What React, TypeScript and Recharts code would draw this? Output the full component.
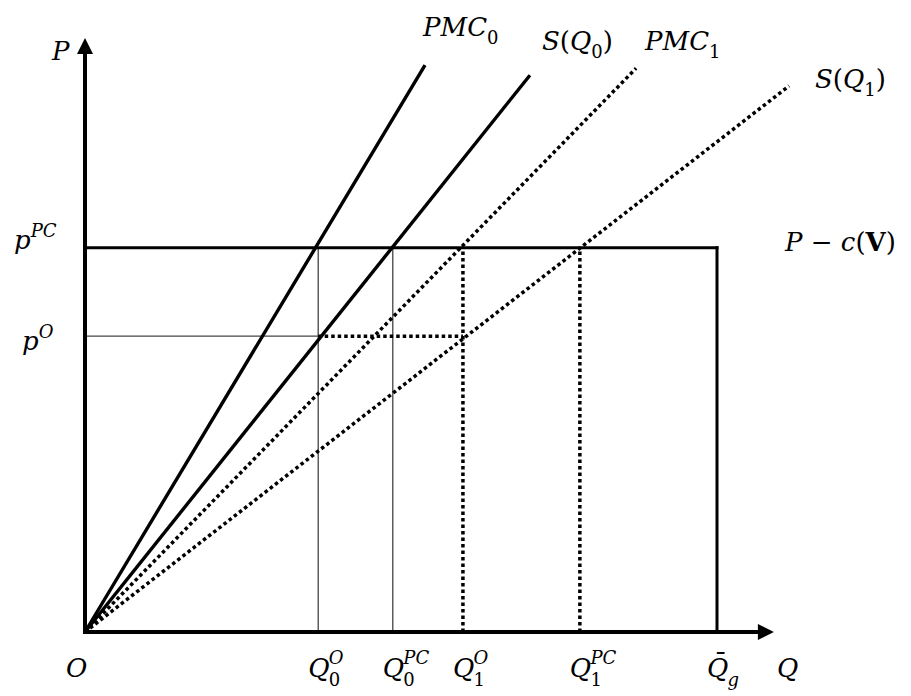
import { ComposedChart, Line, XAxis, YAxis, ReferenceLine, ReferenceDot } from "recharts";

// quantities on the horizontal axis
const quantityTicks = [0, 36.9, 48.7, 59.8, 78.3, 100];
// prices on the vertical axis
const priceTicks = [46.8, 60.8];

// marginal cost / supply curves, each drawn from the origin
const pmc0 = [{ q: 0, p: 0 }, { q: 53.8, p: 89.7 }];
const supply0 = [{ q: 0, p: 0 }, { q: 70.4, p: 88.1 }];
const pmc1 = [{ q: 0, p: 0 }, { q: 87.2, p: 89.2 }];
const supply1 = [{ q: 0, p: 0 }, { q: 111.4, p: 86.4 }];

// where the axis arrows stop
const axisEnd = { q: 109, p: 94 };

// tick labels: main letter, subscript, superscript
const quantityLabels = [
  { base: "O", sub: "", sup: "" },
  { base: "Q", sub: "0", sup: "O" },
  { base: "Q", sub: "0", sup: "PC" },
  { base: "Q", sub: "1", sup: "O" },
  { base: "Q", sub: "1", sup: "PC" },
  { base: "Q\u0304", sub: "g", sup: "" },
];
const priceLabels = [
  { base: "p", sup: "O" },
  { base: "p", sup: "PC" },
];

const [Q0O, Q0PC, Q1O, Q1PC, QG] = quantityTicks.slice(1);
const [PO, PPC] = priceTicks;

type Piece = { t: string; it?: boolean; b?: boolean; lvl?: -1 | 0 | 1 };
const it = (t: string, lvl: -1 | 0 | 1 = 0): Piece => ({ t, it: true, lvl });
const up = (t: string, lvl: -1 | 0 | 1 = 0): Piece => ({ t, lvl });

const FONT = '"DejaVu Serif", serif';
const FS = 26;
const SS = 18;
const shift = (lvl: number) => (lvl === -1 ? 8 : lvl === 1 ? -12 : 0);

function MathText({ x, y, pieces, anchor = "start" }: { x: number; y: number; pieces: Piece[]; anchor?: string }) {
  let cur = 0;
  return (
    <text x={x} y={y} textAnchor={anchor} fontFamily={FONT} fontSize={FS} fill="#000">
      {pieces.map((pc, i) => {
        const lvl = pc.lvl ?? 0;
        const dy = shift(lvl) - shift(cur);
        cur = lvl;
        return (
          <tspan
            key={i}
            dy={dy || undefined}
            fontSize={lvl ? SS : FS}
            fontStyle={pc.it ? "italic" : "normal"}
            fontWeight={pc.b ? "bold" : "normal"}
          >
            {pc.t}
          </tspan>
        );
      })}
    </text>
  );
}

// letter with a subscript and a superscript stacked after it
function StackText({ x, y, base, sub, sup }: { x: number; y: number; base: string; sub: string; sup: string }) {
  const w = 0.79 * FS;
  return (
    <g fontFamily={FONT} fill="#000">
      <text x={x} y={y} fontSize={FS} fontStyle="italic">{base}</text>
      {sub && (
        <text x={x + w} y={y + 9} fontSize={SS} fontStyle={/\d/.test(sub) ? "normal" : "italic"}>{sub}</text>
      )}
      {sup && (
        <text x={x + w} y={y - 13} fontSize={SS} fontStyle="italic">{sup}</text>
      )}
    </g>
  );
}

function QTick(props: any) {
  const { x, y, payload } = props;
  const idx = quantityTicks.indexOf(payload.value);
  if (idx < 0) return null;
  const lab = quantityLabels[idx];
  const dx = idx === 0 ? -19 : -10;
  return <StackText x={x + dx} y={y + 45} base={lab.base} sub={lab.sub} sup={lab.sup} />;
}

function PTick(props: any) {
  const { y, payload } = props;
  const idx = priceTicks.indexOf(payload.value);
  if (idx < 0) return null;
  const lab = priceLabels[idx];
  const left = idx === 0 ? 22 : 14;
  const dy = idx === 0 ? 14 : 1;
  return <MathText x={left} y={y + dy} pieces={[it(lab.base), it(lab.sup, 1)]} />;
}

function Arrow(props: any) {
  const { x1, y1, x2, y2 } = props;
  const a = Math.atan2(y2 - y1, x2 - x1);
  const len = 16;
  const half = 8;
  const bx = x2 - len * Math.cos(a);
  const by = y2 - len * Math.sin(a);
  const px = -Math.sin(a) * half;
  const py = Math.cos(a) * half;
  return (
    <g>
      <line x1={x1} y1={y1} x2={bx} y2={by} stroke="#000" strokeWidth={4} strokeLinecap="square" />
      <polygon points={`${x2},${y2} ${bx + px},${by + py} ${bx - px},${by - py}`} fill="#000" />
    </g>
  );
}

const textAt = (pieces: Piece[], dx: number, dy: number) => (p: any) =>
  <MathText x={p.cx + dx} y={p.cy + dy} pieces={pieces} />;

export default function App() {
  const thin = { stroke: "#444", strokeWidth: 1.3 };
  const thick = { stroke: "#000", strokeWidth: 3 };
  const dotted = { stroke: "#000", strokeWidth: 3.5, strokeDasharray: "3.5 3" };
  const last = (d: { q: number; p: number }[]) => d[d.length - 1];

  return (
    <div style={{ position: "fixed", left: 0, top: 0, width: 911, height: 696, background: "#fff" }}>
      <ComposedChart width={911} height={696} margin={{ top: 0, right: 4.4, bottom: 0, left: 0 }}>
        <XAxis
          dataKey="q"
          type="number"
          domain={[0, 130]}
          ticks={quantityTicks}
          height={64}
          axisLine={false}
          tickLine={false}
          tickSize={0}
          tickMargin={0}
          tick={<QTick />}
          interval={0}
        />
        <YAxis
          type="number"
          domain={[0, 100]}
          ticks={priceTicks}
          width={85}
          axisLine={false}
          tickLine={false}
          tickSize={0}
          tickMargin={0}
          tick={<PTick />}
          interval={0}
        />

        <ReferenceLine segment={[{ x: 0, y: PO }, { x: Q0O, y: PO }]} {...thin} />
        <ReferenceLine segment={[{ x: Q0O, y: 0 }, { x: Q0O, y: PPC }]} {...thin} />
        <ReferenceLine segment={[{ x: Q0PC, y: 0 }, { x: Q0PC, y: PPC }]} {...thin} />
        <ReferenceLine segment={[{ x: Q0O, y: PO }, { x: Q1O, y: PO }]} {...dotted} />
        <ReferenceLine segment={[{ x: Q1O, y: 0 }, { x: Q1O, y: PPC }]} {...dotted} />
        <ReferenceLine segment={[{ x: Q1PC, y: 0 }, { x: Q1PC, y: PPC }]} {...dotted} />
        <ReferenceLine segment={[{ x: 0, y: PPC }, { x: QG, y: PPC }]} {...thick} strokeLinecap="square" />
        <ReferenceLine segment={[{ x: QG, y: 0 }, { x: QG, y: PPC }]} {...thick} strokeLinecap="square" />

        <Line data={pmc0} dataKey="p" stroke="#000" strokeWidth={3.4} dot={false} isAnimationActive={false} />
        <Line data={supply0} dataKey="p" stroke="#000" strokeWidth={3.4} dot={false} isAnimationActive={false} />
        <Line data={pmc1} dataKey="p" {...dotted} dot={false} isAnimationActive={false} />
        <Line data={supply1} dataKey="p" {...dotted} dot={false} isAnimationActive={false} />

        <ReferenceLine segment={[{ x: 0, y: 0 }, { x: axisEnd.q, y: 0 }]} shape={Arrow} ifOverflow="visible" />
        <ReferenceLine segment={[{ x: 0, y: 0 }, { x: 0, y: axisEnd.p }]} shape={Arrow} ifOverflow="visible" />

        <ReferenceDot x={0} y={axisEnd.p} r={0} ifOverflow="visible" shape={textAt([it("P")], -33, 22)} />
        <ReferenceDot x={axisEnd.q} y={0} r={0} ifOverflow="visible" shape={textAt([it("Q")], 3, 45)} />
        <ReferenceDot x={last(pmc0).q} y={last(pmc0).p} r={0} ifOverflow="visible"
          shape={textAt([it("PMC"), up("0", -1)], -2, -29)} />
        <ReferenceDot x={last(supply0).q} y={last(supply0).p} r={0} ifOverflow="visible"
          shape={textAt([it("S"), up("("), it("Q"), up("0", -1), up(")")], 12, -25)} />
        <ReferenceDot x={last(pmc1).q} y={last(pmc1).p} r={0} ifOverflow="visible"
          shape={textAt([it("PMC"), up("1", -1)], 9, -18)} />
        <ReferenceDot x={last(supply1).q} y={last(supply1).p} r={0} ifOverflow="visible"
          shape={textAt([it("S"), up("("), it("Q"), up("1", -1), up(")")], 26, 2)} />
        <ReferenceDot x={QG} y={PPC} r={0} ifOverflow="visible"
          shape={textAt([it("P"), up(" \u2212 "), it("c"), up("("), { t: "V", b: true }, up(")")], 68, 3)} />
      </ComposedChart>
    </div>
  );
}
